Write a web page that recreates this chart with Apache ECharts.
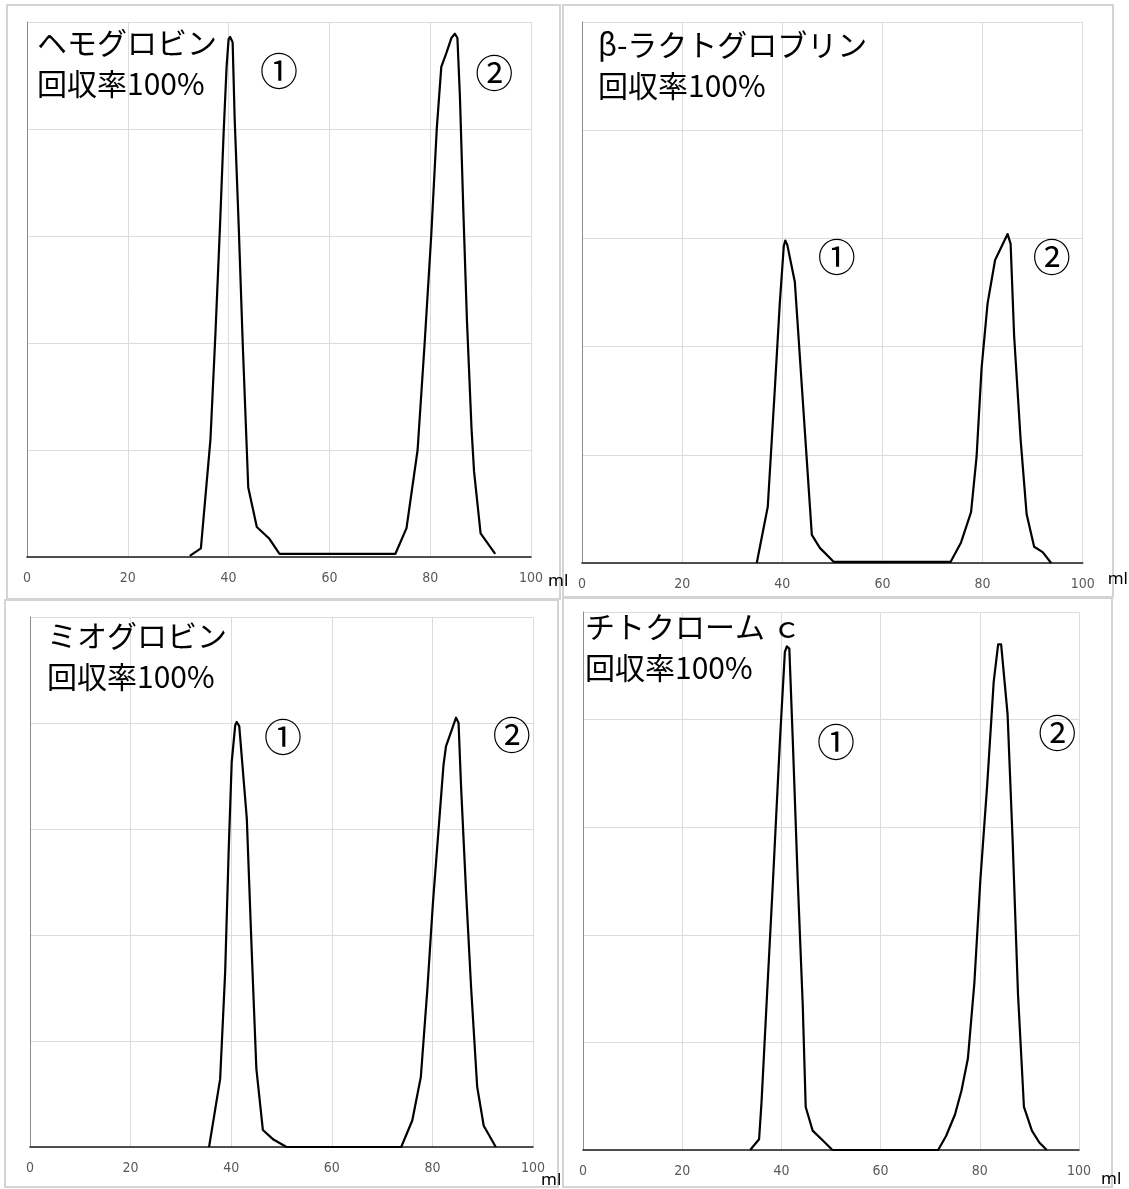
<!DOCTYPE html>
<html>
<head>
<meta charset="utf-8">
<script src="https://cdn.jsdelivr.net/npm/echarts@6/dist/echarts.min.js"></script>
<style>
  html, body { margin: 0; padding: 0; background: #ffffff; }
  #chart { width: 1129px; height: 1189px; }
</style>
</head>
<body>
<div id="chart"></div>
<script>
// Elution profiles: volume (ml) and detector response for each protein
const hemoglobinVolume = [32.3, 34.5, 36.4, 37.4, 38.3, 39.0, 39.6, 40.0, 40.3, 40.8, 41.2, 42.0, 42.8, 43.9, 45.6, 48.1, 50.1, 55, 60, 65, 70, 73.1, 75.3, 77.5, 78.9, 80.2, 81.3, 82.2, 83.2, 84.2, 84.9, 85.4, 85.9, 86.6, 87.3, 88.2, 88.7, 90.0, 92.9];
const hemoglobinSignal = [0.01, 0.08, 1.10, 2.10, 3.10, 3.95, 4.58, 4.84, 4.86, 4.81, 4.10, 3.10, 2.00, 0.65, 0.28, 0.17, 0.03, 0.03, 0.03, 0.03, 0.03, 0.03, 0.27, 1.00, 2.00, 3.00, 4.00, 4.58, 4.71, 4.85, 4.89, 4.85, 4.30, 3.20, 2.20, 1.20, 0.80, 0.22, 0.03];

const lactoglobulinVolume = [34.9, 37.1, 38.5, 39.5, 40.3, 40.6, 41.0, 42.5, 45.9, 47.5, 50.3, 55, 60, 65, 70, 73.6, 75.7, 77.7, 78.8, 79.8, 81.0, 82.5, 85.0, 85.6, 86.3, 87.6, 88.8, 90.3, 92.0, 93.7];
const lactoglobulinSignal = [0.00, 0.52, 1.60, 2.40, 2.93, 2.98, 2.94, 2.60, 0.26, 0.14, 0.01, 0.01, 0.01, 0.01, 0.01, 0.01, 0.19, 0.47, 0.98, 1.80, 2.40, 2.80, 3.04, 2.95, 2.10, 1.14, 0.45, 0.15, 0.10, 0.00];

const myoglobinVolume = [35.6, 37.8, 38.8, 39.5, 40.1, 40.8, 41.1, 41.6, 43.1, 44.1, 45.0, 46.3, 48.4, 51.0, 55, 60, 65, 70, 73.8, 76.0, 77.7, 79.0, 80.1, 82.2, 82.7, 84.7, 85.2, 85.7, 86.7, 87.7, 88.9, 90.2, 92.6];
const myoglobinSignal = [0.00, 0.64, 1.65, 2.80, 3.63, 3.98, 4.01, 3.97, 3.10, 1.82, 0.74, 0.16, 0.07, 0.00, 0.00, 0.00, 0.00, 0.00, 0.00, 0.25, 0.66, 1.49, 2.30, 3.60, 3.78, 4.05, 4.00, 3.40, 2.40, 1.50, 0.57, 0.20, 0.00];

const cytochromeVolume = [33.7, 35.5, 36.0, 37.0, 38.3, 39.7, 40.7, 41.1, 41.6, 42.3, 43.3, 44.3, 44.9, 46.3, 48.3, 50.3, 55, 60, 65, 71.6, 73.2, 75.0, 76.3, 77.6, 78.9, 80.1, 81.5, 82.8, 83.7, 84.3, 85.6, 86.6, 87.7, 88.9, 90.5, 92.0, 93.5];
const cytochromeSignal = [0.00, 0.10, 0.45, 1.35, 2.50, 3.80, 4.63, 4.68, 4.66, 3.80, 2.50, 1.35, 0.40, 0.18, 0.09, 0.00, 0.00, 0.00, 0.00, 0.00, 0.13, 0.33, 0.55, 0.85, 1.55, 2.50, 3.40, 4.35, 4.70, 4.70, 4.05, 2.90, 1.45, 0.40, 0.18, 0.07, 0.00];

const proteinNames = ['ヘモグロビン', 'β-ラクトグロブリン', 'ミオグロビン', 'チトクローム ｃ'];
const recoveryText = '回収率100%';
const volumeTicks = [0, 20, 40, 60, 80, 100];
const volumeUnit = 'ml';
const peakNames = ['①', '②'];
// where the peak numbers sit, in (ml, response) units
const peakNamePlaces = [
  [[50.0, 4.55], [92.7, 4.53]],
  [[50.9, 2.83], [93.8, 2.83]],
  [[50.3, 3.87], [95.8, 3.89]],
  [[51.0, 3.80], [95.6, 3.88]]
];

const volumes = [hemoglobinVolume, lactoglobulinVolume, myoglobinVolume, cytochromeVolume];
const signals = [hemoglobinSignal, lactoglobulinSignal, myoglobinSignal, cytochromeSignal];

// Page layout of the four panels (pixels)
const layout = [
  { grid: { left: 27,  top: 22,  width: 504, height: 535 }, frame: [7, 5, 553, 594],     title: [37, 22],   unitGap: 17, unitDrop: 16 },
  { grid: { left: 582, top: 22,  width: 503, height: 541 }, frame: [563, 5, 550, 592],   title: [598, 24],  unitGap: 25, unitDrop: 8 },
  { grid: { left: 30,  top: 617, width: 503, height: 532 }, frame: [5, 600, 553, 587],   title: [47, 615],  unitGap: 8,  unitDrop: 25 },
  { grid: { left: 583, top: 612, width: 496, height: 538 }, frame: [563, 598, 549, 589], title: [585, 606], unitGap: 22, unitDrop: 21 }
];

const chart = echarts.init(document.getElementById('chart'), null, { renderer: 'canvas' });

const grids = [], xAxes = [], yAxes = [], series = [], titles = [], graphics = [];

layout.forEach((p, i) => {
  grids.push(Object.assign({ containLabel: false }, p.grid));

  xAxes.push({
    type: 'value', gridIndex: i, min: volumeTicks[0], max: volumeTicks[volumeTicks.length - 1],
    interval: volumeTicks[1] - volumeTicks[0],
    name: volumeUnit, nameLocation: 'end', nameGap: p.unitGap, nameMoveOverlap: false,
    nameTextStyle: { fontSize: 17, color: '#000', fontFamily: 'Noto Sans', verticalAlign: 'top', padding: [p.unitDrop, 0, 0, 0] },
    axisLine: { show: true, onZero: false, lineStyle: { color: '#1a1a1a', width: 1.5 } },
    axisTick: { show: false },
    axisLabel: { color: '#595959', fontSize: 14, margin: 14, fontFamily: 'Liberation Sans Narrow, DejaVu Sans Condensed, sans-serif' },
    splitLine: { show: true, lineStyle: { color: '#dcdcdc', width: 1 } }
  });

  yAxes.push({
    type: 'value', gridIndex: i, min: 0, max: 5, interval: 1,
    axisLine: { show: true, lineStyle: { color: '#8c8c8c', width: 1 } },
    axisTick: { show: false },
    axisLabel: { show: false },
    splitLine: { show: true, lineStyle: { color: '#dcdcdc', width: 1 } }
  });

  series.push({
    type: 'line', xAxisIndex: i, yAxisIndex: i,
    data: volumes[i].map((v, k) => [v, signals[i][k]]),
    showSymbol: false, smooth: false, silent: true,
    lineStyle: { color: '#000', width: 2.2, join: 'round' },
    markPoint: {
      symbol: 'circle', symbolSize: 1, silent: true,
      itemStyle: { color: 'transparent' },
      label: { show: true, position: 'inside', formatter: '{b}', color: '#000', fontSize: 38, fontFamily: 'Noto Sans CJK JP' },
      data: peakNames.map((n, k) => ({ name: n, coord: peakNamePlaces[i][k] }))
    }
  });

  titles.push({
    text: proteinNames[i] + '\n' + recoveryText,
    left: p.title[0], top: p.title[1], padding: 0,
    textStyle: { fontSize: 30, fontWeight: 'normal', color: '#000', lineHeight: 41, fontFamily: 'Noto Sans CJK JP' }
  });

  graphics.push({
    type: 'rect', silent: true, z: -1,
    shape: { x: p.frame[0], y: p.frame[1], width: p.frame[2], height: p.frame[3] },
    style: { fill: 'none', stroke: '#d4d4d4', lineWidth: 2 }
  });
});

chart.setOption({
  backgroundColor: '#ffffff',
  animation: false,
  title: titles,
  grid: grids,
  xAxis: xAxes,
  yAxis: yAxes,
  series: series,
  graphic: graphics
});
</script>
</body>
</html>
